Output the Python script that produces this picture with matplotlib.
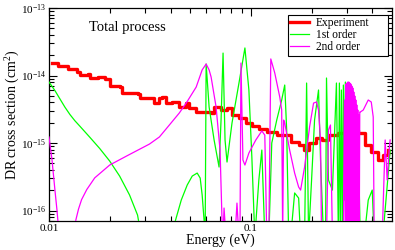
import numpy as np
import matplotlib.pyplot as plt
from matplotlib.ticker import FixedLocator, FixedFormatter, NullFormatter

plt.rcParams['font.family'] = 'Liberation Serif'
plt.rcParams['mathtext.fontset'] = 'custom'
plt.rcParams['mathtext.rm'] = 'Liberation Serif'
plt.rcParams['mathtext.it'] = 'Liberation Serif:italic'

# experiment (energy in eV, DR cross section in cm^2)
exp_energy = [0.01031, 0.01091, 0.01111, 0.01199, 0.01245, 0.01369, 0.01421, 0.01562,
              0.01592, 0.01685, 0.01750, 0.01888, 0.01998, 0.02238, 0.02308, 0.02754,
              0.02808, 0.03206, 0.03328, 0.03494, 0.03644, 0.03813, 0.04082, 0.04418,
              0.04784, 0.04949, 0.05359, 0.05866, 0.06353, 0.06573, 0.07116, 0.07617,
              0.08061, 0.08729, 0.09450, 0.1011, 0.1095, 0.1199, 0.1269, 0.1343,
              0.1487, 0.1574, 0.1724, 0.1824, 0.1931, 0.2090, 0.2238, 0.2423,
              0.2713, 0.2938, 0.3404, 0.3687, 0.3947, 0.4272, 0.4522, 0.4785]
exp_sigma = [1.55e-14, 1.55e-14, 1.40e-14, 1.40e-14, 1.24e-14, 1.14e-14, 1.02e-14, 1.05e-14,
             9.09e-15, 9.09e-15, 9.60e-15, 8.87e-15, 6.99e-15, 6.69e-15, 5.45e-15, 5.27e-15,
             4.69e-15, 4.69e-15, 3.87e-15, 4.59e-15, 4.80e-15, 3.91e-15, 4.05e-15, 3.41e-15,
             3.91e-15, 3.30e-15, 2.88e-15, 2.88e-15, 2.78e-15, 3.41e-15, 3.08e-15, 3.30e-15,
             2.60e-15, 2.35e-15, 1.98e-15, 1.79e-15, 1.61e-15, 1.46e-15, 1.46e-15, 1.31e-15,
             1.31e-15, 1.03e-15, 9.34e-16, 7.87e-16, 1.00e-15, 1.19e-15, 1.11e-15, 1.31e-15,
             1.41e-15, 1.56e-15, 1.41e-15, 9.34e-16, 7.36e-16, 5.60e-16, 6.64e-16, 7.87e-16]

# 1st order theory
first_energy = [0.01000, 0.01070, 0.01133, 0.01199, 0.01269, 0.01343, 0.01421, 0.01592,
                0.01783, 0.01998, 0.02238, 0.02506, 0.02745, 0.02872, 0.04129, 0.04223,
                0.04520, 0.04838, 0.05122, 0.05420, 0.05608, 0.05736, 0.05868, 0.05935,
                0.06002, 0.06210, 0.06573, 0.06956, 0.07116, 0.07280, 0.07447, 0.07617,
                0.08062, 0.08729, 0.09342, 0.09775, 0.1011, 0.1046, 0.1095, 0.1133,
                0.1172, 0.1227, 0.1269, 0.1343, 0.1421, 0.1471, 0.1504, 0.1539,
                0.1574, 0.1647, 0.1724, 0.1763, 0.1845, 0.1888, 0.1931, 0.1998,
                0.2067, 0.2163, 0.2213, 0.2290, 0.2343, 0.2369, 0.2423, 0.2535,
                0.2653, 0.2713, 0.2744, 0.2775, 0.2807, 0.2839, 0.2871, 0.2904,
                0.2937, 0.2971, 0.3005, 0.3039, 0.3073, 0.3108, 0.3144, 0.3180,
                0.3216, 0.3253, 0.3290, 0.3327, 0.3442, 0.3482, 0.3643, 0.3813,
                0.3990, 0.4082, 0.4175, 0.4573, 0.4840, 0.4895]
first_sigma = [8.01e-15, 5.98e-15, 4.50e-15, 3.40e-15, 2.65e-15, 2.14e-15, 1.78e-15, 1.22e-15,
               8.30e-16, 5.41e-16, 3.24e-16, 1.70e-16, 8.58e-17, 4.0e-17, 4.0e-17, 7.0e-17,
               1.43e-16, 2.39e-16, 3.24e-16, 3.59e-16, 3.03e-16, 1.70e-16, 7.0e-17, 4.0e-17,
               1.48e-14, 3.41e-15, 1.11e-15, 4.41e-16, 2.19e-15, 2.15e-14, 1.11e-15, 5.23e-16,
               1.98e-15, 7.74e-15, 2.56e-14, 6.10e-15, 6.20e-16, 4.0e-17, 2.83e-16, 7.87e-16,
               4.0e-17, 4.0e-17, 1.00e-15, 2.19e-15, 4.34e-15, 7.23e-15, 1.56e-15, 4.0e-17,
               4.0e-17, 1.82e-16, 1.53e-16, 4.0e-17, 4.0e-17, 7.74e-15, 4.0e-17, 2.83e-16,
               2.19e-15, 6.10e-15, 5.60e-16, 4.0e-17, 4.0e-17, 9.18e-15, 2.83e-16, 2.01e-16,
               7.74e-15, 4.0e-17, 7.74e-15, 4.0e-17, 6.10e-15, 4.0e-17, 7.23e-15, 1.43e-16,
               8.01e-15, 4.0e-17, 6.75e-15, 2.83e-16, 6.10e-15, 4.0e-17, 5.14e-15, 1.43e-16,
               4.34e-15, 4.0e-17, 1.56e-15, 7.0e-17, 2.01e-16, 4.0e-17, 4.0e-17, 1.43e-16,
               2.01e-16, 4.0e-17, 4.0e-17, 7.0e-17, 5.05e-16, 7.87e-16]

# 2nd order theory (dense resonance block near 0.3 eV)
second_energy = [0.01000, 0.01035, 0.01070, 0.01095, 0.01107, 0.01120, 0.01328, 0.01358,
                 0.01400, 0.01450, 0.01539, 0.01685, 0.01998, 0.02423, 0.03146, 0.03523,
                 0.03947, 0.04418, 0.04784, 0.05359, 0.05736, 0.06002, 0.06210, 0.06353,
                 0.06725, 0.07035, 0.07197, 0.07280, 0.07362, 0.07530, 0.08342, 0.08532,
                 0.08729, 0.08829, 0.08930, 0.09133, 0.09342, 0.09775, 0.1058, 0.1133,
                 0.1172, 0.1199, 0.1227, 0.1255, 0.1313, 0.1390, 0.1421, 0.1437,
                 0.1453, 0.1471, 0.1556, 0.1647, 0.1724, 0.1763, 0.1845, 0.1953,
                 0.2044, 0.2114, 0.2163, 0.2213, 0.2238, 0.2369, 0.2423, 0.2478,
                 0.2535, 0.2871, 0.2904, 0.2937, 0.2954, 0.2971, 0.2988, 0.3005,
                 0.3022, 0.3039, 0.3056, 0.3073, 0.3090, 0.3108, 0.3126, 0.3144,
                 0.3162, 0.3180, 0.3198, 0.3216, 0.3234, 0.3253, 0.3271, 0.3290,
                 0.3309, 0.3327, 0.3346, 0.3365, 0.3385, 0.3404, 0.3423, 0.3442,
                 0.3462, 0.3482, 0.3602, 0.3813, 0.3947, 0.4036, 0.4082, 0.4470,
                 0.4625, 0.4731, 0.4840, 0.4895]
second_sigma = [1.23e-15, 5.60e-16, 2.01e-16, 1.02e-16, 7.0e-17, 4.0e-17, 4.0e-17, 7.23e-17,
                1.05e-16, 1.45e-16, 2.05e-16, 3.05e-16, 4.72e-16, 6.42e-16, 9.66e-16, 1.23e-15,
                1.85e-15, 2.78e-15, 3.91e-15, 6.75e-15, 1.21e-14, 1.48e-14, 1.21e-14, 9.50e-15,
                3.41e-15, 7.87e-16, 7.0e-17, 4.0e-17, 1.09e-16, 4.0e-17, 4.0e-17, 1.29e-16,
                4.0e-17, 4.0e-17, 1.53e-14, 5.60e-16, 4.72e-16, 7.11e-16, 1.11e-15, 1.51e-15,
                1.31e-15, 4.0e-17, 4.0e-17, 1.76e-14, 1.09e-14, 4.80e-15, 3.08e-15, 4.0e-17,
                2.19e-15, 1.98e-15, 7.87e-16, 3.59e-16, 2.23e-16, 2.01e-16, 4.41e-16, 1.73e-15,
                3.91e-15, 4.05e-15, 3.08e-15, 1.11e-15, 4.0e-17, 4.0e-17, 1.56e-15, 1.85e-15,
                4.0e-17, 4.0e-17, 4.34e-15, 4.0e-17, 7.48e-15, 4.0e-17, 7.74e-15, 4.0e-17,
                8.01e-15, 4.0e-17, 8.01e-15, 4.0e-17, 7.74e-15, 4.0e-17, 7.48e-15, 4.0e-17,
                6.99e-15, 4.0e-17, 6.53e-15, 4.0e-17, 5.69e-15, 4.0e-17, 4.97e-15, 4.0e-17,
                4.34e-15, 4.0e-17, 3.66e-15, 4.0e-17, 3.08e-15, 4.0e-17, 2.60e-15, 4.0e-17,
                2.88e-15, 2.88e-15, 3.08e-15, 4.34e-15, 4.05e-15, 2.43e-15, 4.0e-17, 4.0e-17,
                1.11e-15, 2.83e-16, 7.87e-16, 1.11e-15]

fig = plt.figure(figsize=(3.95, 2.5), dpi=100)
ax = fig.add_axes([49/395, 29/250, 343/395, 213/250])

ax.plot(exp_energy, exp_sigma, color='red', lw=2.4, drawstyle='steps-post',
        label='Experiment', zorder=2)
ax.plot(first_energy, first_sigma, color='#00ff00', lw=0.9, label='1st order', zorder=3)
ax.plot(second_energy, second_sigma, color='#ff00ff', lw=0.9, label='2nd order', zorder=4)

ax.set_xscale('log')
ax.set_yscale('log')
ax.set_xlim(0.01, 0.5)
ax.set_ylim(7e-17, 1e-13)

ax.xaxis.set_major_locator(FixedLocator([0.01, 0.1]))
ax.xaxis.set_major_formatter(FixedFormatter(['0.01', '0.1']))
ax.xaxis.set_minor_locator(FixedLocator([0.02, 0.03, 0.04, 0.05, 0.06, 0.07, 0.08, 0.09,
                                         0.2, 0.3, 0.4]))
ax.xaxis.set_minor_formatter(NullFormatter())

ydec = [1e-16, 1e-15, 1e-14, 1e-13]
ax.yaxis.set_major_locator(FixedLocator(ydec))
ax.yaxis.set_major_formatter(FixedFormatter([r'$10^{-16}$', r'$10^{-15}$',
                                             r'$10^{-14}$', r'$10^{-13}$']))
yminor = [m * d for d in [1e-17, 1e-16, 1e-15, 1e-14] for m in range(2, 10)]
ax.yaxis.set_minor_locator(FixedLocator(yminor))
ax.yaxis.set_minor_formatter(NullFormatter())

ax.tick_params(which='both', direction='in', top=True, right=True, width=0.8,
               labelsize=8)
ax.tick_params(which='major', length=6, pad=2)
ax.tick_params(which='minor', length=3.5)
for s in ax.spines.values():
    s.set_linewidth(0.9)

ax.set_xlabel('Energy (eV)', fontsize=10)
ax.set_ylabel('DR cross section (cm$^2$)', fontsize=10)
ax.xaxis.set_label_coords(0.5, -0.06)
ax.yaxis.set_label_coords(-0.08, 0.5)

ax.text(0.229, 0.91, 'Total process', transform=ax.transAxes, fontsize=10.5,
        ha='center', va='center')

leg = ax.legend(loc='upper left', bbox_to_anchor=(0.697, 0.5, 0.291, 0.467),
                mode='expand', borderaxespad=0, fontsize=8.3, fancybox=False,
                edgecolor='black', framealpha=1, handlelength=1.6, handletextpad=0.6,
                labelspacing=0.0, borderpad=0.2)
leg.get_frame().set_linewidth(0.8)

fig.savefig('out.png', dpi=100)
